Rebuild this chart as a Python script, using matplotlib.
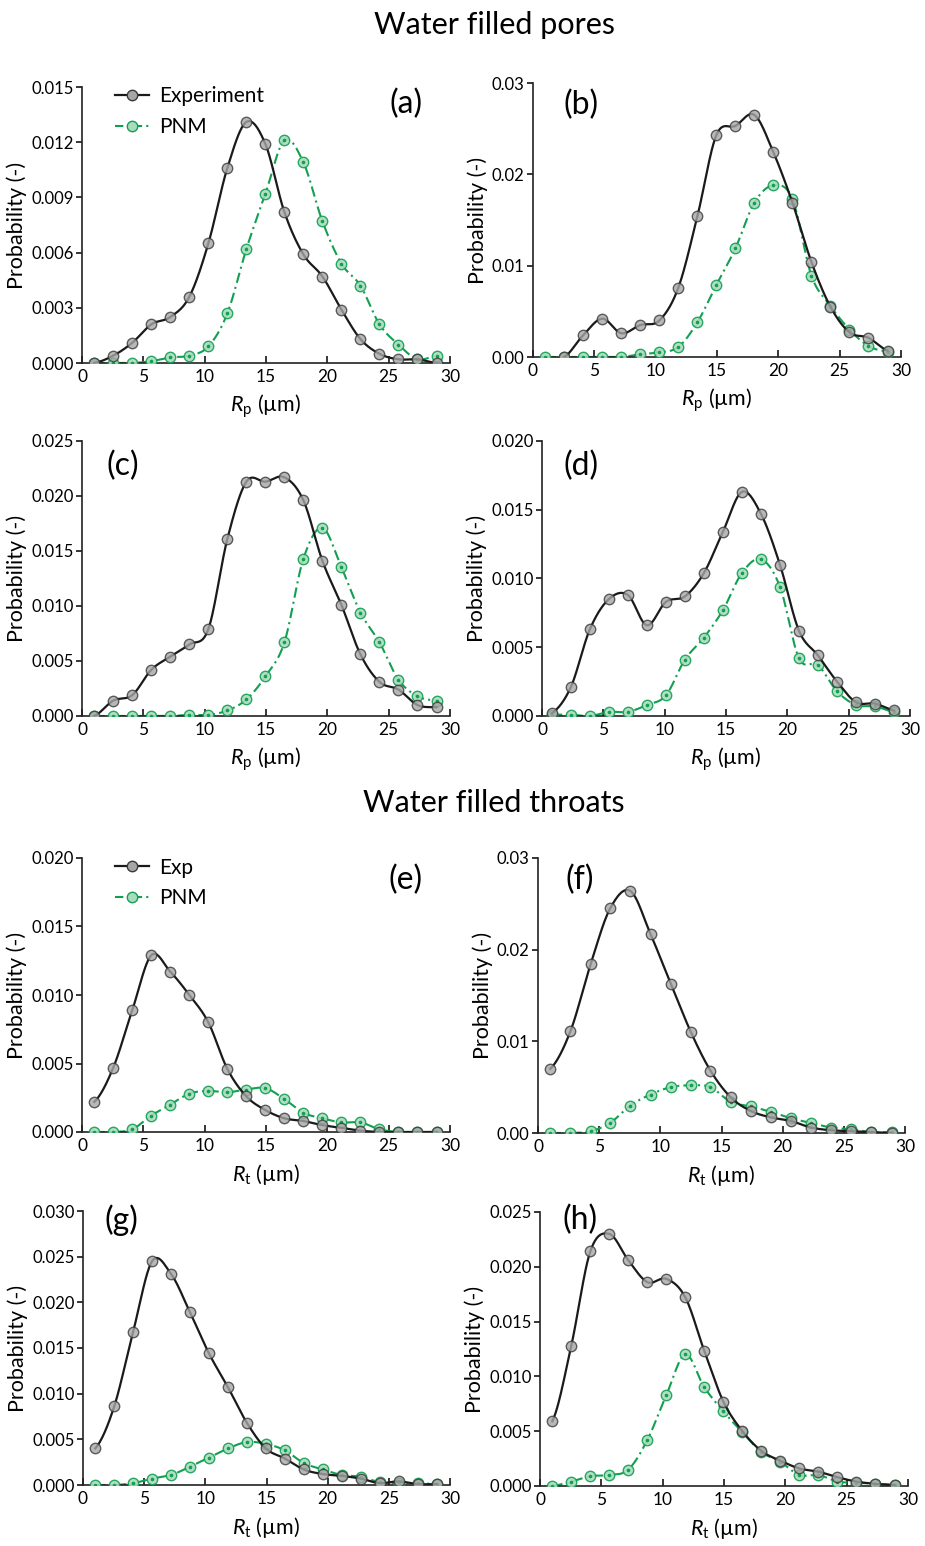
import matplotlib
matplotlib.use("Agg")
import matplotlib.pyplot as plt
import numpy as np

# ── Data ───────────────────────────────────────────────────────────────────────
x_a = [1.0, 2.55, 4.1, 5.65, 7.2, 8.75, 10.3, 11.85, 13.4, 14.95, 16.5, 18.05, 19.6, 21.15, 22.7, 24.25, 25.8, 27.35, 28.9]
x_d = [0.8, 2.35, 3.9, 5.45, 7.0, 8.55, 10.1, 11.65, 13.2, 14.75, 16.3, 17.85, 19.4, 20.95, 22.5, 24.05, 25.6, 27.15, 28.7]
x_f = [1.0, 2.65, 4.3, 5.9, 7.55, 9.2, 10.85, 12.5, 14.1, 15.75, 17.4, 19.05, 20.7, 22.3, 23.95, 25.6, 27.25, 28.9]

# water filled pores
exp_a = [0.0000, 0.0004, 0.0011, 0.0021, 0.0025, 0.0036, 0.0065, 0.0106, 0.0131, 0.0119,
         0.0082, 0.0059, 0.0047, 0.0029, 0.0013, 0.0005, 0.0002, 0.0002, 0.0000]
pnm_a = [0.0000, 0.0000, 0.0000, 0.0001, 0.0003, 0.0004, 0.0009, 0.0027, 0.0062, 0.0092,
         0.0121, 0.0109, 0.0077, 0.0054, 0.0042, 0.0021, 0.0010, 0.0002, 0.0004]

exp_b = [np.nan, 0.0000, 0.0024, 0.0042, 0.0026, 0.0035, 0.0040, 0.0076, 0.0154, 0.0243,
         0.0253, 0.0265, 0.0224, 0.0169, 0.0104, 0.0055, 0.0027, 0.0021, 0.0007]
pnm_b = [0.0000, 0.0000, 0.0000, 0.0000, 0.0000, 0.0003, 0.0005, 0.0011, 0.0038, 0.0079,
         0.0119, 0.0169, 0.0188, 0.0173, 0.0089, 0.0056, 0.0030, 0.0012, 0.0006]

exp_c = [0.0000, 0.0014, 0.0019, 0.0042, 0.0054, 0.0065, 0.0079, 0.0161, 0.0213, 0.0213,
         0.0217, 0.0196, 0.0141, 0.0101, 0.0056, 0.0031, 0.0024, 0.0010, 0.0008]
pnm_c = [0.0000, 0.0000, 0.0000, 0.0000, 0.0000, 0.0001, 0.0001, 0.0005, 0.0015, 0.0036,
         0.0067, 0.0143, 0.0171, 0.0135, 0.0094, 0.0067, 0.0033, 0.0018, 0.0014]

exp_d = [0.0002, 0.0021, 0.0063, 0.0085, 0.0088, 0.0066, 0.0083, 0.0087, 0.0104, 0.0134,
         0.0163, 0.0147, 0.0110, 0.0062, 0.0044, 0.0025, 0.0010, 0.0009, 0.0004]
pnm_d = [0.0001, 0.0001, 0.0000, 0.0003, 0.0003, 0.0008, 0.0015, 0.0041, 0.0057, 0.0077,
         0.0104, 0.0114, 0.0094, 0.0042, 0.0037, 0.0018, 0.0008, 0.0007, 0.0003]

# water filled throats
exp_e = [0.0022, 0.0047, 0.0089, 0.0129, 0.0117, 0.0100, 0.0080, 0.0046, 0.0026, 0.0016,
         0.0010, 0.0008, 0.0005, 0.0003, 0.0001, 0.0000, 0.0000, 0.0000, 0.0000]
pnm_e = [0.0000, 0.0000, 0.0002, 0.0012, 0.0020, 0.0028, 0.0030, 0.0029, 0.0031, 0.0032,
         0.0024, 0.0014, 0.0010, 0.0007, 0.0007, 0.0002, 0.0000, 0.0000, 0.0000]

exp_f = [0.0070, 0.0111, 0.0184, 0.0245, 0.0264, 0.0217, 0.0163, 0.0110, 0.0068, 0.0039,
         0.0024, 0.0017, 0.0013, 0.0006, 0.0003, 0.0002, 0.0001, 0.0000]
pnm_f = [0.0000, 0.0000, 0.0002, 0.0011, 0.0030, 0.0042, 0.0050, 0.0052, 0.0050, 0.0034,
         0.0029, 0.0023, 0.0016, 0.0011, 0.0006, 0.0004, 0.0001, 0.0001]

exp_g = [0.0040, 0.0086, 0.0168, 0.0245, 0.0231, 0.0189, 0.0144, 0.0107, 0.0068, 0.0040,
         0.0029, 0.0017, 0.0012, 0.0010, 0.0007, 0.0002, 0.0004, 0.0001, 0.0001]
pnm_g = [0.0000, 0.0000, 0.0002, 0.0007, 0.0011, 0.0020, 0.0030, 0.0040, 0.0047, 0.0045,
         0.0038, 0.0024, 0.0017, 0.0011, 0.0009, 0.0003, 0.0002, 0.0002, 0.0001]

exp_h = [0.0059, 0.0128, 0.0214, 0.0230, 0.0206, 0.0186, 0.0189, 0.0172, 0.0123, 0.0077,
         0.0050, 0.0032, 0.0023, 0.0016, 0.0013, 0.0008, 0.0004, 0.0002, 0.0001]
pnm_h = [0.0000, 0.0004, 0.0009, 0.0010, 0.0015, 0.0042, 0.0083, 0.0120, 0.0090, 0.0068,
         0.0049, 0.0031, 0.0022, 0.0010, 0.0010, 0.0004, 0.0003, 0.0002, 0.0001]

# ── Style ──────────────────────────────────────────────────────────────────────
BLACK = "#1a1a1a"
GREY_FACE = "#a6a6a6"
GREEN = "#12a050"
GREEN_FACE = "#a9dcbf"

plt.rcParams["font.family"] = ["Lato", "DejaVu Sans"]
plt.rcParams["mathtext.fontset"] = "custom"
plt.rcParams["mathtext.rm"] = "Lato"
plt.rcParams["mathtext.it"] = "Lato:italic"


def smooth(x, y, n=24):
    """Catmull-Rom curve through the points, only for drawing the line."""
    x = np.asarray(x, float)
    y = np.asarray(y, float)
    ok = ~np.isnan(y)
    x, y = x[ok], y[ok]
    px = np.concatenate([[2 * x[0] - x[1]], x, [2 * x[-1] - x[-2]]])
    py = np.concatenate([[y[0]], y, [y[-1]]])
    xs, ys = [], []
    t = np.linspace(0, 1, n, endpoint=False)
    for i in range(1, len(px) - 2):
        for p, out in ((px, xs), (py, ys)):
            p0, p1, p2, p3 = p[i - 1], p[i], p[i + 1], p[i + 2]
            out.append(0.5 * (2 * p1 + (-p0 + p2) * t
                              + (2 * p0 - 5 * p1 + 4 * p2 - p3) * t ** 2
                              + (-p0 + 3 * p1 - 3 * p2 + p3) * t ** 3))
    xs.append([x[-1]])
    ys.append([y[-1]])
    return np.concatenate(xs), np.clip(np.concatenate(ys), 0, None)


# panel boxes in pixels: left, top, right, bottom
W, H = 925, 1546
panels = [
    ("(a)", x_a, exp_a, pnm_a, (82, 87, 450, 363), 0.015, 0.003, "%.3f", "p", (0.88, 0.94)),
    ("(b)", x_a, exp_b, pnm_b, (533, 83, 901, 357), 0.03, 0.01, "%.2f", "p", (0.13, 0.92)),
    ("(c)", x_a, exp_c, pnm_c, (82, 441, 450, 716), 0.025, 0.005, "%.3f", "p", (0.11, 0.91)),
    ("(d)", x_d, exp_d, pnm_d, (542, 441, 910, 716), 0.020, 0.005, "%.3f", "p", (0.105, 0.91)),
    ("(e)", x_a, exp_e, pnm_e, (82, 858, 450, 1132), 0.020, 0.005, "%.3f", "t", (0.88, 0.92)),
    ("(f)", x_f, exp_f, pnm_f, (538, 858, 905, 1133), 0.03, 0.01, "%.2f", "t", (0.115, 0.92)),
    ("(g)", x_a, exp_g, pnm_g, (83, 1211, 450, 1485), 0.030, 0.005, "%.3f", "t", (0.105, 0.965)),
    ("(h)", x_a, exp_h, pnm_h, (540, 1212, 908, 1486), 0.025, 0.005, "%.3f", "t", (0.11, 0.97)),
]

fig = plt.figure(figsize=(W / 100, H / 100), dpi=100)

for tag, xv, ev, pv, box, ymax, ystep, fmt, sub, tagpos in panels:
    l, t, r, b = box
    ax = fig.add_axes([l / W, 1 - b / H, (r - l) / W, (b - t) / H])

    sx, sy = smooth(xv, pv)
    ax.plot(sx, sy, color=GREEN, lw=1.5, ls=(0, (5, 2, 1, 2)), zorder=2)
    ax.plot(xv, pv, ls="none", marker="o", ms=7.5, mfc=GREEN_FACE, mec=GREEN,
            mew=1.0, alpha=0.9, zorder=3)
    ax.plot(xv, pv, ls="none", marker="o", ms=1.6, color=GREEN, zorder=4)

    sx, sy = smooth(xv, ev)
    ax.plot(sx, sy, color=BLACK, lw=1.6, zorder=5)
    ax.plot(xv, ev, ls="none", marker="o", ms=7.5, mfc=GREY_FACE, mec="#3a3a3a",
            mew=1.0, alpha=0.8, zorder=6)

    ax.set_xlim(0, 30)
    ax.set_ylim(0, ymax)
    ax.set_xticks(np.arange(0, 31, 5))
    ax.set_yticks(np.arange(0, ymax + ystep / 2, ystep))
    ax.yaxis.set_major_formatter(matplotlib.ticker.FormatStrFormatter(fmt))
    ax.spines["top"].set_visible(False)
    ax.spines["right"].set_visible(False)
    for s in ("left", "bottom"):
        ax.spines[s].set_linewidth(1.2)
        ax.spines[s].set_color("#222222")
    ax.tick_params(axis="x", direction="in", length=5, width=1.1, labelsize=12.5, pad=4)
    ax.tick_params(axis="y", direction="out", length=4, width=1.1, labelsize=12, pad=2)
    ax.set_xlabel(r"$R_\mathrm{%s}$ (µm)" % sub, fontsize=15.5, labelpad=6)
    ax.set_ylabel("Probability (-)", fontsize=15.5, labelpad=3)
    ax.text(tagpos[0], tagpos[1], tag, transform=ax.transAxes, ha="center",
            va="center", fontsize=23)

    if tag in ("(a)", "(e)"):
        names = ["Experiment", "PNM"] if tag == "(a)" else ["Exp", "PNM"]
        h1 = ax.plot([], [], color=BLACK, lw=1.6, marker="o", ms=7.5,
                     mfc=GREY_FACE, mec="#3a3a3a")[0]
        h2 = ax.plot([], [], color=GREEN, lw=1.5, ls=(0, (4, 2, 1, 2)), marker="o",
                     ms=7.5, mfc=GREEN_FACE, mec=GREEN)[0]
        ax.legend([h1, h2], names, loc="upper left", bbox_to_anchor=(0.04, 1.07),
                  frameon=False, fontsize=15, handlelength=1.6, handletextpad=0.5,
                  labelspacing=0.5)

fig.text(494 / W, 1 - 25 / H, "Water filled pores", ha="center", va="center", fontsize=22)
fig.text(494 / W, 1 - 803 / H, "Water filled throats", ha="center", va="center", fontsize=22)

fig.savefig("out.png", dpi=100)
